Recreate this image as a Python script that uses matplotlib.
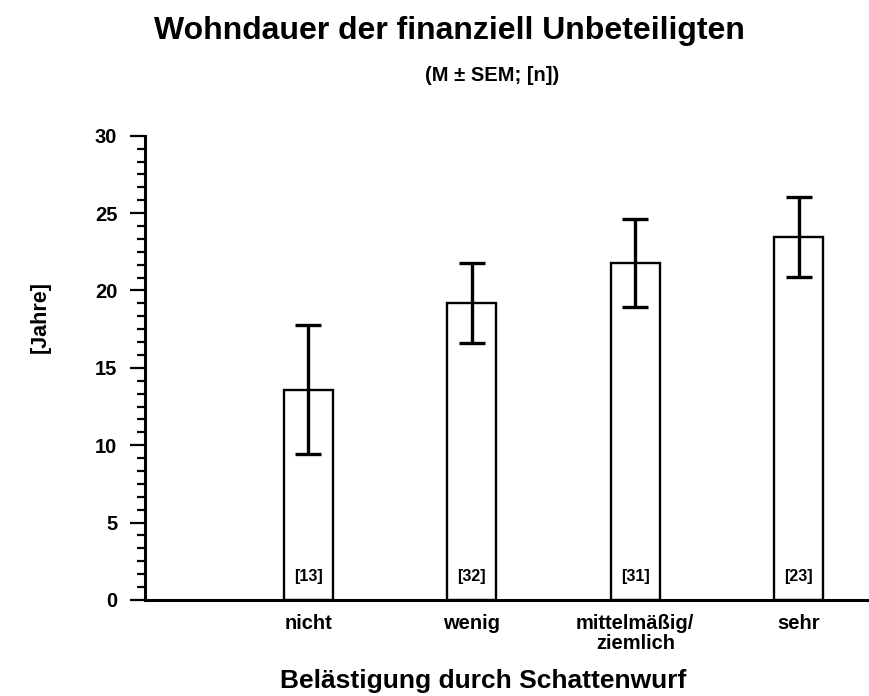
import numpy as np
import matplotlib.pyplot as plt
from matplotlib.ticker import MultipleLocator

plt.rcParams['font.family'] = ['Liberation Sans', 'DejaVu Sans']
plt.rcParams['font.weight'] = 'bold'

categories = ['nicht', 'wenig', 'mittelmäßig/\nziemlich', 'sehr']
means = [13.6, 19.2, 21.75, 23.45]
sem = [4.2, 2.6, 2.85, 2.6]
counts = [13, 32, 31, 23]

fig = plt.figure(figsize=(8.69, 6.96), dpi=100)
ax = fig.add_axes([0.1669, 0.138, 0.8331, 0.667])

x = np.arange(1, len(categories) + 1)
ax.bar(x, means, width=0.3, color='white', edgecolor='black', linewidth=1.7, zorder=2)
ax.errorbar(x, means, yerr=sem, fmt='none', ecolor='black', elinewidth=2.4,
            capsize=9.5, capthick=2.4, zorder=3)

# sample sizes at the foot of each bar
for xi, n in zip(x, counts):
    ax.text(xi, 1.5, f'[{n}]', ha='center', va='center', fontsize=11.5, fontweight='bold')

ax.set_xlim(0, 4.43)
ax.set_ylim(0, 30)
ax.set_xticks(x)
ax.set_xticklabels(categories, fontsize=14.5, fontweight='bold', linespacing=1.1)
ax.tick_params(axis='x', length=0, pad=10)
ax.yaxis.set_major_locator(MultipleLocator(5))
ax.yaxis.set_minor_locator(MultipleLocator(5 / 6))
ax.tick_params(axis='y', which='major', length=11, width=1.6, labelsize=14.5, pad=9)
ax.tick_params(axis='y', which='minor', length=5.8, width=1.6)
for lbl in ax.get_yticklabels():
    lbl.set_fontweight('bold')

for side in ['top', 'right']:
    ax.spines[side].set_visible(False)
for side in ['left', 'bottom']:
    ax.spines[side].set_linewidth(2.2)

fig.text(0.046, 0.5445, '[Jahre]', rotation=90, ha='center', va='center',
         fontsize=15.5, fontweight='bold')
fig.text(0.556, 0.0216, 'Belästigung durch Schattenwurf', ha='center', va='center',
         fontsize=19, fontweight='bold')

fig.text(0.517, 0.956, 'Wohndauer der finanziell Unbeteiligten', ha='center', va='center',
         fontsize=23, fontweight='bold')
fig.text(0.566, 0.891, '(M ± SEM; [n])', ha='center', va='center', fontsize=14.5, fontweight='bold')

fig.savefig('out.png', dpi=100)
